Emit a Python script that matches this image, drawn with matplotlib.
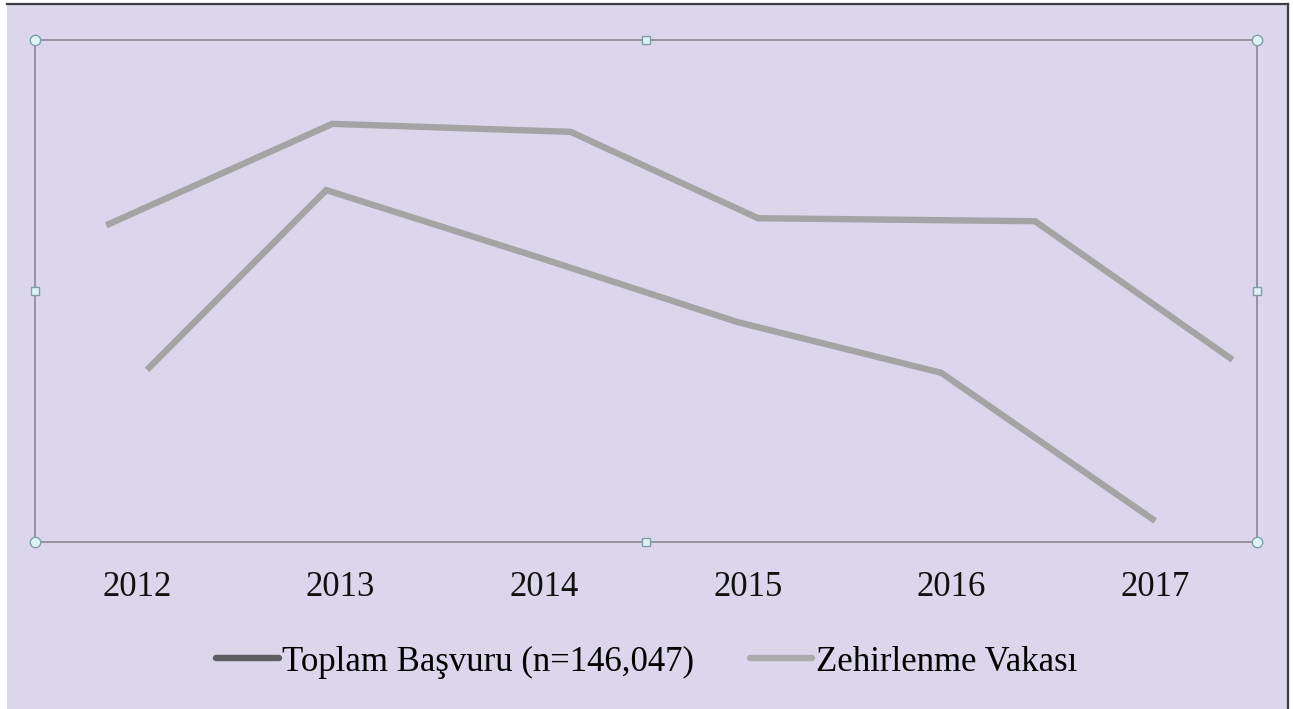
import matplotlib
matplotlib.use("Agg")
import matplotlib.pyplot as plt
from matplotlib.lines import Line2D
from matplotlib.patches import Rectangle

# categories (x axis labels)
years = ['2012', '2013', '2014', '2015', '2016', '2017']

# the drawn points do not sit exactly on the category centres in the source,
# so each series carries its own x position (in category units)
toplam_x = [-0.15, 0.96, 2.13, 3.05, 4.41, 5.38]
toplam_y = [63.1, 83.3, 81.7, 64.5, 63.9, 36.3]

zehir_x = [0.05, 0.93, 1.98, 2.95, 3.95, 5.00]
zehir_y = [34.3, 70.1, 56.6, 43.8, 33.7, 4.2]

labels = ['Toplam Başvuru (n=146,047)', 'Zehirlenme Vakası']

bg = '#DBD6EB'
line_col = '#A4A4A4'
legend_cols = ['#5E5E62', '#ABABAB']

plt.rcParams['font.family'] = ['Liberation Serif', 'DejaVu Serif']

fig = plt.figure(figsize=(12.93, 7.09), dpi=100, facecolor='white')

# page background with the thin dark border on top/right
fig.patches.append(Rectangle((7 / 1293, 0), 1280 / 1293, 1 - 4 / 709,
                             transform=fig.transFigure, facecolor=bg,
                             edgecolor='none', zorder=-10))
fig.add_artist(Line2D([7 / 1293, 1288 / 1293], [1 - 4 / 709, 1 - 4 / 709],
                      transform=fig.transFigure, color='#3C3C44', lw=1.6))
fig.add_artist(Line2D([1288 / 1293, 1288 / 1293], [0, 1 - 4 / 709],
                      transform=fig.transFigure, color='#3C3C44', lw=1.6))

ax = fig.add_axes([35 / 1293, 1 - 542 / 709, 1222 / 1293, 502 / 709])
ax.set_facecolor('none')

ax.plot(toplam_x, toplam_y, color=line_col, lw=4.6,
        solid_joinstyle='miter', solid_capstyle='butt')
ax.plot(zehir_x, zehir_y, color=line_col, lw=4.6,
        solid_joinstyle='miter', solid_capstyle='butt')

ax.set_xlim(-0.5, 5.5)
ax.set_ylim(0, 100)
ax.set_xticks(range(len(years)))
ax.set_xticklabels(years, fontsize=25, color='#111111')
ax.tick_params(axis='x', length=0, pad=21)
ax.set_yticks([])

for s in ax.spines.values():
    s.set_color('#8F8F9A')
    s.set_linewidth(1.3)

# selection handles of the chart frame
hx = [0, 1, 0, 1]
hy = [1, 1, 0, 0]
ax.plot(hx, hy, 'o', ms=7.5, mfc='#DDF3F4', mec='#7F9FAD', mew=1,
        transform=ax.transAxes, clip_on=False, zorder=5)
sx = [0.5, 0.5, 0, 1]
sy = [1, 0, 0.5, 0.5]
ax.plot(sx, sy, 's', ms=6, mfc='#DDF3F4', mec='#7F9FAD', mew=1,
        transform=ax.transAxes, clip_on=False, zorder=5)

handles = [Line2D([], [], color=c, lw=4.6, solid_capstyle='round') for c in legend_cols]
fig.legend(handles, labels, loc='center', bbox_to_anchor=(0.5, 1 - 662 / 709),
           ncol=2, frameon=False, fontsize=25, handlelength=1.8,
           handletextpad=0.1, columnspacing=1.6)

fig.savefig('out.png', dpi=100, facecolor=fig.get_facecolor())
